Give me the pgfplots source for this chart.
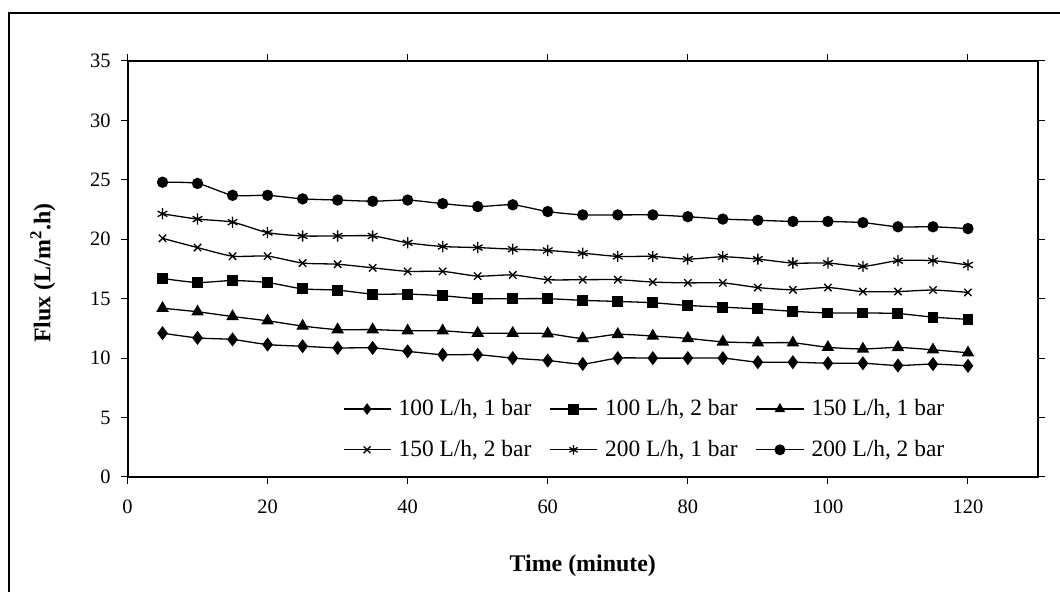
\documentclass[border=0pt]{standalone}
\usepackage{fontspec}
\setmainfont{Liberation Serif}
\usepackage{pgfplots}
\pgfplotsset{compat=1.18}

\pgfplotstableread{
t   a     b     c     d     e     f
5   12.10 16.70 14.20 20.08 22.14 24.80
10  11.70 16.36 13.90 19.30 21.70 24.70
15  11.57 16.53 13.50 18.58 21.44 23.70
20  11.14 16.36 13.14 18.58 20.56 23.70
25  11.00 15.83 12.70 18.00 20.28 23.40
30  10.86 15.72 12.40 17.90 20.28 23.30
35  10.86 15.39 12.40 17.60 20.28 23.20
40  10.57 15.39 12.30 17.30 19.70 23.30
45  10.29 15.25 12.30 17.30 19.39 23.00
50  10.29 15.00 12.10 16.90 19.30 22.75
55  10.00 15.00 12.10 17.00 19.17 22.90
60   9.80 15.00 12.06 16.60 19.06 22.33
65   9.51 14.86 11.66 16.60 18.83 22.05
70  10.00 14.77 12.00 16.60 18.56 22.05
75  10.00 14.66 11.86 16.40 18.56 22.05
80  10.00 14.43 11.66 16.33 18.33 21.90
85  10.00 14.29 11.37 16.33 18.53 21.70
90   9.66 14.14 11.29 15.94 18.33 21.60
95   9.66 13.94 11.29 15.75 18.00 21.50
100  9.57 13.80 10.91 15.94 18.00 21.50
105  9.57 13.80 10.77 15.60 17.72 21.40
110  9.38 13.75 10.90 15.60 18.20 21.05
115  9.50 13.45 10.70 15.73 18.20 21.05
120  9.35 13.26 10.45 15.53 17.84 20.90
}\fluxdata

\begin{document}
\fontsize{20}{24}\selectfont
\begin{tikzpicture}[x=1bp,y=1bp]
\path[use as bounding box] (0,0) rectangle (1060,592);
\draw[line width=1.3bp] (9,-20) rectangle (1080,579);
\begin{axis}[
    at={(127.5bp,115bp)}, anchor=south west,
    scale only axis, width=910.5bp, height=416bp,
    xmin=0, xmax=130, ymin=0, ymax=35,
    xtick={0,20,...,120}, ytick={0,5,...,35},
    tick align=outside, major tick length=7bp,
    tick style={black, line width=1bp},
    axis line style={line width=1.2bp},
    /pgf/number format/assume math mode=true,
    ticklabel style={font=\fontsize{20.5}{24}\selectfont},
    xticklabel style={yshift=-9bp},
    yticklabel style={xshift=-3bp},
    xlabel={\textbf{Time (minute)}},
    ylabel={\textbf{Flux (L/m\textsuperscript{2}.h)}},
    xlabel style={at={(axis description cs:0.5,-0.213)}, anchor=center,
        font=\fontsize{24}{28}\selectfont},
    ylabel style={at={(axis description cs:-0.093,0.49)}, anchor=center,
        font=\fontsize{24}{28}\selectfont},
    legend columns=3,
    legend style={at={(axis cs:30.3,4.0)}, anchor=west, draw=none, fill=none,
        font=\fontsize{23.5}{28}\selectfont, row sep=17.5bp,
        /tikz/every odd column/.append style={column sep=5.5bp},
        /tikz/every even column/.append style={column sep=16bp}},
    legend image code/.code={\draw[mark repeat=2,mark phase=2,mark size=4.8bp]
        plot coordinates {(0bp,0bp)(23.5bp,0bp)(47bp,0bp)};},
    every axis plot/.append style={black, line width=1.3bp, smooth, tension=0.4},
]
\addplot[mark=diamond*, mark size=6bp] table[x=t,y=a] {\fluxdata};
\addlegendentry{100 L/h, 1 bar}
\addplot[mark=square*, mark size=4.8bp] table[x=t,y=b] {\fluxdata};
\addlegendentry{100 L/h, 2 bar}
\addplot[mark=triangle*, mark size=6bp] table[x=t,y=c] {\fluxdata};
\addlegendentry{150 L/h, 1 bar}
\addplot[mark=x, mark size=5.2bp, mark options={line width=1.3bp}] table[x=t,y=d] {\fluxdata};
\addlegendentry{150 L/h, 2 bar}
\addplot[mark=asterisk, mark size=5.6bp, mark options={line width=1.3bp}] table[x=t,y=e] {\fluxdata};
\addlegendentry{200 L/h, 1 bar}
\addplot[mark=*, mark size=5bp] table[x=t,y=f] {\fluxdata};
\addlegendentry{200 L/h, 2 bar}
\draw[line width=2bp] (rel axis cs:0,1) -- (rel axis cs:0,0) -- (rel axis cs:1,0);
\end{axis}
\end{tikzpicture}
\end{document}
